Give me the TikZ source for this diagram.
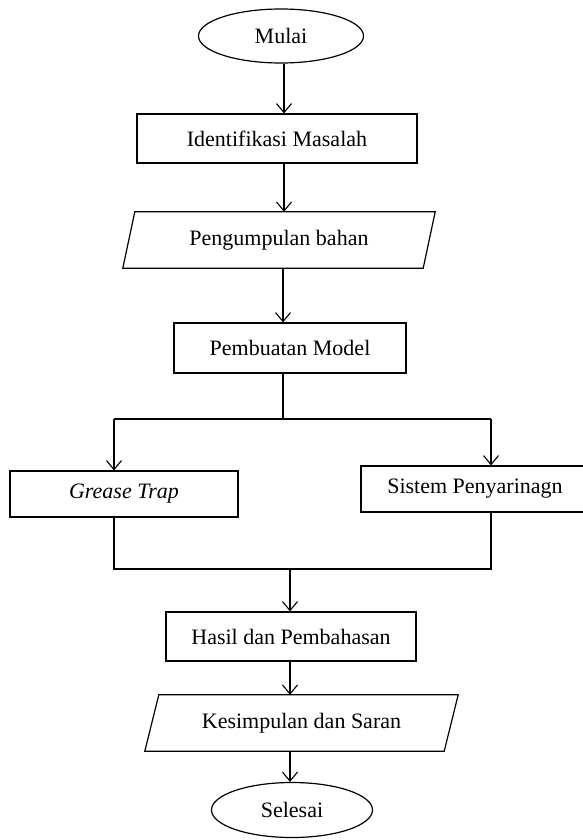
\documentclass[tikz,border=0pt]{standalone}
\usepackage{fontspec}
\setmainfont{Liberation Serif}
\usetikzlibrary{shapes.geometric,arrows.meta,calc}
\begin{document}
\begin{tikzpicture}[x=1pt,y=-1pt,
  every node/.style={font=\fontsize{22}{26}\selectfont, inner sep=0pt},
  boxnode/.style={draw, line width=1.2pt, rectangle, fill=white},
  ovalnode/.style={draw, line width=1.2pt, ellipse, fill=white},
  plainnode/.style={rectangle},
  conn/.style={line width=1.2pt},
  arr/.style={line width=1.2pt, -{Straight Barb[length=9pt,width=15pt,line width=1.1pt]}}
]
\useasboundingbox (0,0) rectangle (583,840);
\clip (0,0) rectangle (583,840);
\fill[white] (0,0) rectangle (583,840);

% nodes
\node[ovalnode, minimum width=165pt, minimum height=54pt] (mulai) at (281,36) {Mulai};
\node[boxnode, minimum width=280pt, minimum height=49pt] (ident) at (277,138.5) {Identifikasi Masalah};
\node[plainnode, minimum width=312pt, minimum height=56pt] (kump) at (279,240) {Pengumpulan bahan};
\draw[conn] (kump.south west) -- ($(kump.south east)+(-12,0)$) -- (kump.north east) -- ($(kump.north west)+(12,0)$) -- cycle;
\node[boxnode, minimum width=232pt, minimum height=50pt] (pemb) at (290,348) {Pembuatan Model};
\node[boxnode, minimum width=228pt, minimum height=46pt] (grease) at (124,494) {\itshape Grease Trap};
\node[boxnode, minimum width=228pt, minimum height=46pt] (sistem) at (475,489) {Sistem Penyarinagn};
\node[boxnode, minimum width=250pt, minimum height=49pt] (hasil) at (291,636.5) {Hasil dan Pembahasan};
\node[plainnode, minimum width=313pt, minimum height=56pt] (kesimp) at (301.5,723) {Kesimpulan dan Saran};
\draw[conn] (kesimp.south west) -- ($(kesimp.south east)+(-14,0)$) -- (kesimp.north east) -- ($(kesimp.north west)+(14,0)$) -- cycle;
\node[ovalnode, minimum width=161pt, minimum height=55pt] (selesai) at (292,810) {Selesai};

% helper coordinates
\coordinate (colA) at (284,0);
\coordinate (colB) at (290,0);
\coordinate (split) at (283,419);
\coordinate (merge) at (290,569);
\coordinate (gx) at (114,0);
\coordinate (sx) at (491,0);

% connectors
\draw[arr] (mulai.south -| colA) -- (ident.north -| colA);
\draw[arr] (ident.south -| colA) -- (kump.north -| colA);
\draw[arr] (kump.south -| split) -- (pemb.north -| split);
\draw[conn] (pemb.south -| split) -- (split);
\draw[conn] (split -| gx) -- (split -| sx);
\draw[arr] (split -| gx) -- (grease.north -| gx);
\draw[arr] (split -| sx) -- (sistem.north -| sx);
\draw[conn] (grease.south -| gx) -- (merge -| gx) -- (merge -| sx) -- (sistem.south -| sx);
\draw[arr] (merge) -- (hasil.north -| merge);
\draw[arr] (hasil.south -| colB) -- (kesimp.north -| colB);
\draw[arr] (kesimp.south -| colB) -- (selesai.north -| colB);
\end{tikzpicture}
\end{document}
